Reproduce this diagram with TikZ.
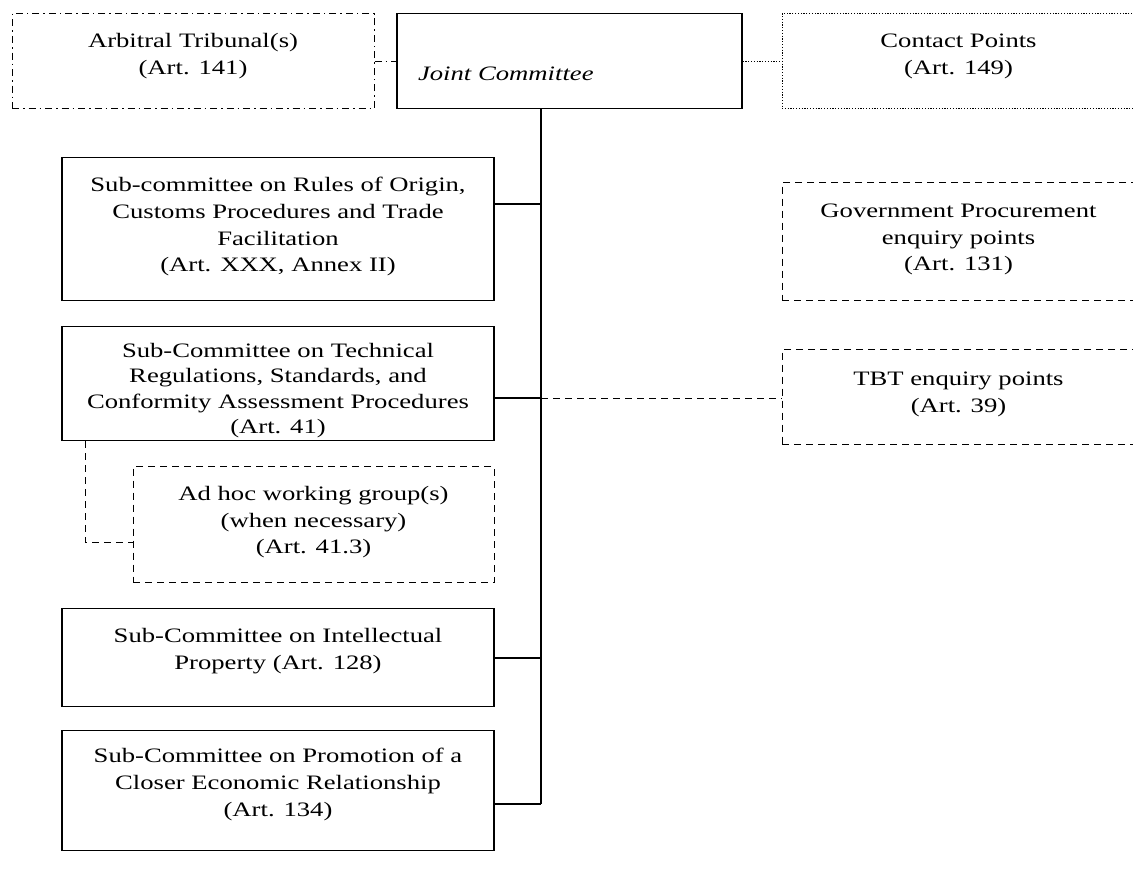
\documentclass[tikz,border=0pt]{standalone}
\usepackage{fontspec}
\setmainfont{Liberation Serif}[FakeStretch=1.3]
\begin{document}
\begin{tikzpicture}[x=1pt,y=-1pt,
  box/.style={draw, line width=1.3pt, inner xsep=0pt, inner ysep=0pt, anchor=north, align=center, font=\fontsize{20.5}{26.7}\selectfont},
  dbox/.style={box, line width=1pt, dash pattern=on 7pt off 5pt},
  ddbox/.style={box, line width=1pt, dash pattern=on 7pt off 4pt on 1.5pt off 4pt},
  dotbox/.style={box, line width=1pt, dash pattern=on 1.2pt off 1.6pt},
  conn/.style={line width=1.3pt},
  dconn/.style={line width=1pt, dash pattern=on 7pt off 5pt},
  ddconn/.style={line width=1pt, dash pattern=on 7pt off 4pt on 1.5pt off 4pt},
  dotconn/.style={line width=1pt, dash pattern=on 1.2pt off 1.6pt}]
\useasboundingbox (0,0) rectangle (1133,870);
\clip (0,0) rectangle (1133,870);
\fill[white] (0,0) rectangle (1133,870);
\node[ddbox, minimum width=362pt, text height=60.7pt, text depth=34.3pt] (arb) at (193,13) {Arbitral Tribunal(s)\\(Art. 141)};
\node[box, minimum width=345pt, text height=67pt, text depth=28pt, text width=303pt, inner xsep=21pt, align=left] (joint) at (569.5,13) {\itshape Joint Committee};
\node[dotbox, minimum width=353pt, text height=60.7pt, text depth=34.3pt] (contact) at (958.5,13) {Contact Points\\(Art. 149)};
\node[box, minimum width=432pt, text height=114.1pt, text depth=28.9pt] (roo) at (278,157) {Sub-committee on Rules of Origin,\\Customs Procedures and Trade\\Facilitation\\(Art. XXX, Annex II)};
\node[box, minimum width=432pt, text height=106.9pt, text depth=7.1pt, font=\fontsize{20.5}{25.3}\selectfont] (tbt) at (278,326) {Sub-Committee on Technical\\Regulations, Standards, and\\Conformity Assessment Procedures\\(Art. 41)};
\node[dbox, minimum width=361pt, text height=87.4pt, text depth=28.6pt] (adhoc) at (313.5,466) {Ad hoc working group(s)\\(when necessary)\\(Art. 41.3)};
\node[box, minimum width=432pt, text height=60.7pt, text depth=37.3pt] (ip) at (278,608) {Sub-Committee on Intellectual\\Property (Art. 128)};
\node[box, minimum width=432pt, text height=85.4pt, text depth=34.6pt] (promo) at (278,730) {Sub-Committee on Promotion of a\\Closer Economic Relationship\\(Art. 134)};
\node[dbox, minimum width=353pt, text height=88.4pt, text depth=29.6pt] (gp) at (958.5,182) {Government Procurement\\enquiry points\\(Art. 131)};
\node[dbox, minimum width=353pt, text height=62.7pt, text depth=32.3pt] (tbtep) at (958.5,349) {TBT enquiry points\\(Art. 39)};
\coordinate (tb) at (541,804);
\draw[conn] (joint.south -| tb) -- (tb);
\draw[conn] (roo.east |- 0,204) -- (tb |- 0,204);
\draw[conn] (tbt.east |- 0,398) -- (tb |- 0,398);
\draw[conn] (ip.east |- 0,658) -- (tb |- 0,658);
\draw[conn] (promo.east |- tb) -- (tb);
\draw[dconn] (tb |- 0,398) -- (tbtep.west |- 0,398);
\draw[dconn] (tbt.south -| 85,0) |- (adhoc.west |- 0,542);
\draw[ddconn] (arb.east |- 0,61) -- (joint.west |- 0,61);
\draw[dotconn] (joint.east |- 0,61) -- (contact.west |- 0,61);
\end{tikzpicture}
\end{document}
